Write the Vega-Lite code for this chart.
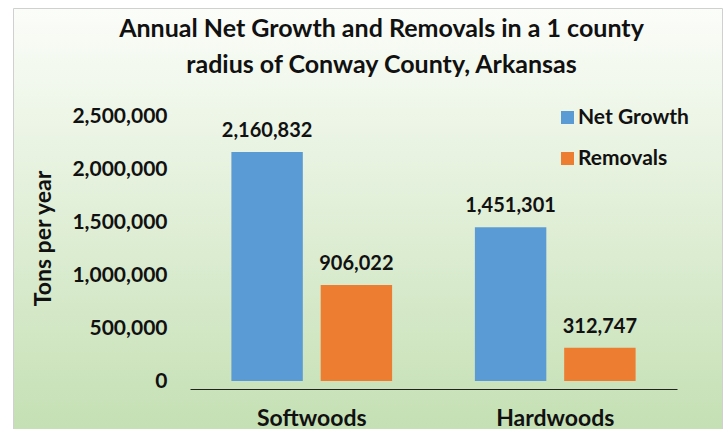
{
  "$schema": "https://vega.github.io/schema/vega-lite/v6.json",
  "width": 709,
  "height": 421,
  "autosize": {"type": "none"},
  "padding": {"left": 13, "top": 8, "right": 5, "bottom": 0},
  "background": "white",
  "config": {
    "font": "Lato",
    "view": {
      "fill": {"gradient": "linear", "x1": 0, "y1": 0, "x2": 0, "y2": 1, "stops": [{"offset": 0, "color": "#fbfdf9"}, {"offset": 1, "color": "#c5e0b4"}]},
      "stroke": "#d0d0d0",
      "strokeWidth": 1
    }
  },
  "title": {
    "text": ["Annual Net Growth and Removals in a 1 county", "radius of Conway County, Arkansas"],
    "anchor": "middle",
    "frame": "group",
    "fontSize": 25,
    "fontWeight": "bold",
    "color": "#111111",
    "lineHeight": 36,
    "baseline": "alphabetic",
    "offset": -90,
    "dx": 14
  },
  "data": {
    "values": [
      {"type": "Softwoods", "series": "Net Growth", "tons": 2160832},
      {"type": "Softwoods", "series": "Removals", "tons": 906022},
      {"type": "Hardwoods", "series": "Net Growth", "tons": 1451301},
      {"type": "Hardwoods", "series": "Removals", "tons": 312747}
    ]
  },
  "encoding": {
    "x": {
      "field": "type",
      "type": "nominal",
      "sort": ["Softwoods", "Hardwoods"],
      "scale": {"range": [177, 664], "paddingInner": 0.34, "paddingOuter": 0.17},
      "axis": {
        "title": null,
        "orient": "bottom",
        "offset": -40,
        "domain": true,
        "domainColor": "#222222",
        "domainWidth": 1,
        "ticks": false,
        "tickSize": 0,
        "labelPadding": 36,
        "labelBaseline": "alphabetic",
        "labelAngle": 0,
        "labelFontSize": 23,
        "labelFontWeight": "bold",
        "labelColor": "#111111"
      }
    },
    "xOffset": {
      "field": "series",
      "type": "nominal",
      "sort": ["Net Growth", "Removals"],
      "scale": {"paddingInner": 0.2, "paddingOuter": 0}
    },
    "y": {
      "field": "tons",
      "type": "quantitative",
      "scale": {"domain": [0, 2500000], "range": [373, 108], "nice": false},
      "axis": {
        "title": "Tons per year",
        "values": [0, 500000, 1000000, 1500000, 2000000, 2500000],
        "format": ",d",
        "offset": -154,
        "domain": false,
        "ticks": false,
        "tickSize": 0,
        "grid": false,
        "labelPadding": 0,
        "labelFontSize": 21,
        "labelFontWeight": "bold",
        "labelColor": "#111111",
        "titleFontSize": 23,
        "titleFontWeight": "bold",
        "titleColor": "#111111",
        "titleAngle": -90,
        "titleX": -124,
        "titleY": 230,
        "titleAlign": "center",
        "titleBaseline": "middle"
      }
    }
  },
  "layer": [
    {
      "mark": {"type": "bar"},
      "encoding": {
        "color": {
          "field": "series",
          "type": "nominal",
          "sort": ["Net Growth", "Removals"],
          "scale": {"domain": ["Net Growth", "Removals"], "range": ["#5b9bd5", "#ed7d31"]},
          "legend": {
            "title": null,
            "orient": "none",
            "legendX": 544,
            "legendY": 99,
            "symbolType": "square",
            "symbolSize": 169,
            "symbolStrokeWidth": 0,
            "labelFontSize": 21,
            "labelFontWeight": "bold",
            "labelColor": "#111111",
            "labelOffset": 0,
            "rowPadding": 19,
            "padding": 0
          }
        }
      }
    },
    {
      "mark": {"type": "text", "baseline": "alphabetic", "dy": -15, "fontSize": 20, "fontWeight": "bold", "color": "#111111"},
      "encoding": {"text": {"field": "tons", "type": "quantitative", "format": ",d"}}
    }
  ]
}
